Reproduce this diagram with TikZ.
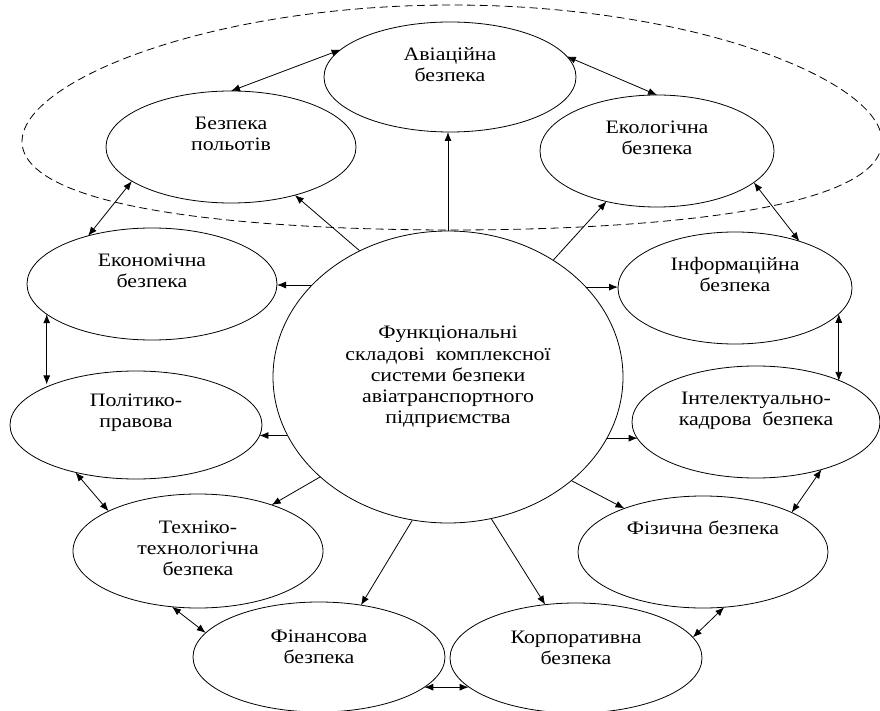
\documentclass[tikz,border=0pt]{standalone}
\usepackage{fontspec}
\setmainfont[FakeStretch=1.15]{Liberation Serif}
\usetikzlibrary{arrows.meta,calc,shapes.geometric}
\begin{document}
\begin{tikzpicture}[x=1pt,y=-1pt,
  line width=0.8pt,
  el/.style={draw, ellipse, inner sep=0pt, outer sep=0pt, minimum width=250pt, minimum height=111pt},
  lbl/.style={anchor=north, align=center, inner sep=0pt, font=\fontsize{19}{21.25}\selectfont},
  arr/.style={-{Latex[length=9pt,width=7pt]}},
  darr/.style={{Latex[length=9pt,width=7pt]}-{Latex[length=9pt,width=7pt]}},
  dashring/.style={dash pattern=on 8pt off 4.5pt, line width=0.8pt}
]
\useasboundingbox (0,0) rectangle (880,711);

% dashed outline around the upper group
\draw[dashring] plot[domain=0:360, samples=140, smooth]
  ({452+430*cos(\x)}, {117.5+112.5*sin(\x)+24*cos(\x)*cos(\x)}) -- cycle;

% central node
\node[draw, ellipse, inner sep=0pt, minimum width=350pt, minimum height=292pt, align=center,
      font=\fontsize{19}{21.25}\selectfont] (C) at (448,377)
  {Функціональні\\складові\hspace{0.6em}комплексної\\системи безпеки\\авіатранспортного\\підприємства};

% outer nodes
\node[el, minimum width=252pt, minimum height=110pt] (av)   at (450,77)  {};
\node[el, minimum width=250pt, minimum height=112pt] (bp)   at (231,147) {};
\node[el, minimum width=234pt, minimum height=112pt] (eko)  at (657,151) {};
\node[el, minimum width=250pt, minimum height=112pt] (ekon) at (152,284) {};
\node[el, minimum width=234pt, minimum height=112pt] (inf)  at (735,288) {};
\node[el, minimum width=252pt, minimum height=108pt] (pol)  at (136,425) {};
\node[el, minimum width=248pt, minimum height=112pt] (int)  at (756,422) {};
\node[el, minimum width=250pt, minimum height=114pt] (tech) at (198,551) {};
\node[el, minimum width=250pt, minimum height=112pt] (fiz)  at (703,552) {};
\node[el, minimum width=252pt, minimum height=110pt] (fin)  at (319,657) {};
\node[el, minimum width=252pt, minimum height=110pt] (korp) at (576,658) {};

% labels
\node[lbl] (avt)   at ([yshift=-23pt]av.north)   {\strut Авіаційна\\\strut безпека};
\node[lbl] (bpt)   at ([yshift=-23pt]bp.north)   {\strut Безпека\\\strut польотів};
\node[lbl] (ekot)  at ([yshift=-23pt]eko.north)  {\strut Екологічна\\\strut безпека};
\node[lbl] (ekont) at ([yshift=-23pt]ekon.north) {\strut Економічна\\\strut безпека};
\node[lbl] (inft)  at ([yshift=-23pt]inf.north)  {\strut Інформаційна\\\strut безпека};
\node[lbl] (polt)  at ([yshift=-20pt]pol.north)  {\strut Політико-\\\strut правова};
\node[lbl] (intt)  at ([yshift=-23pt]int.north)  {\strut Інтелектуально-\\\strut кадрова\ \ безпека};
\node[lbl] (techt) at ([yshift=-24pt]tech.north) {\strut Техніко-\\\strut технологічна\\\strut безпека};
\node[lbl] (fizt)  at ([yshift=-23pt]fiz.north)  {\strut Фізична безпека};
\node[lbl] (fint)  at ([yshift=-25pt]fin.north)  {\strut Фінансова\\\strut безпека};
\node[lbl] (korpt) at ([yshift=-25pt]korp.north) {\strut Корпоративна\\\strut безпека};

% arrows from the centre
\draw[arr] (C.125.6) -- (bp.-37.7);
\draw[arr] (C.north) -- (C.north |- av.south);
\draw[arr] (C.48.6) -- (eko.225.6);
\draw[arr] (C.146.6) -- (C.146.6 -| ekon.east);
\draw[arr] (C.33.2) -- (C.33.2 -| inf.west);
\draw[arr] (C.200.6) -- (C.200.6 -| pol.-5.6);
\draw[arr] (C.-21.2) -- (C.-21.2 -| int.188.2);
\draw[arr] (C.218) -- (tech.32.4);
\draw[arr] (C.256.2) -- (fin.51.3);
\draw[arr] (C.287.7) -- (korp.120.8);
\draw[arr] (C.-40) -- (fiz.151.7);

% links around the ring
\draw[darr] (bp.north) -- (av.166.6);
\draw[darr] (av.10.6) -- (eko.north);
\draw[darr] (eko.-18.1) -- (inf.36.9);
\draw[darr] (bp.199.8) -- (ekon.143.8);
\draw[darr] (ekon.196.4) -- (ekon.196.4 |- pol.154.2);
\draw[darr] (inf.-14.4) -- (inf.-14.4 |- int.26.6);
\draw[darr] (pol.218.7) -- (tech.156.8);
\draw[darr] (tech.245.5) -- (fin.168.4);
\draw[darr] (fin.-16.1) -- (fin.-16.1 -| korp.195);
\draw[darr] (korp.10.6) -- (fiz.-69.2);
\draw[darr] (fiz.24.2) -- (int.-36.7);
\end{tikzpicture}
\end{document}
